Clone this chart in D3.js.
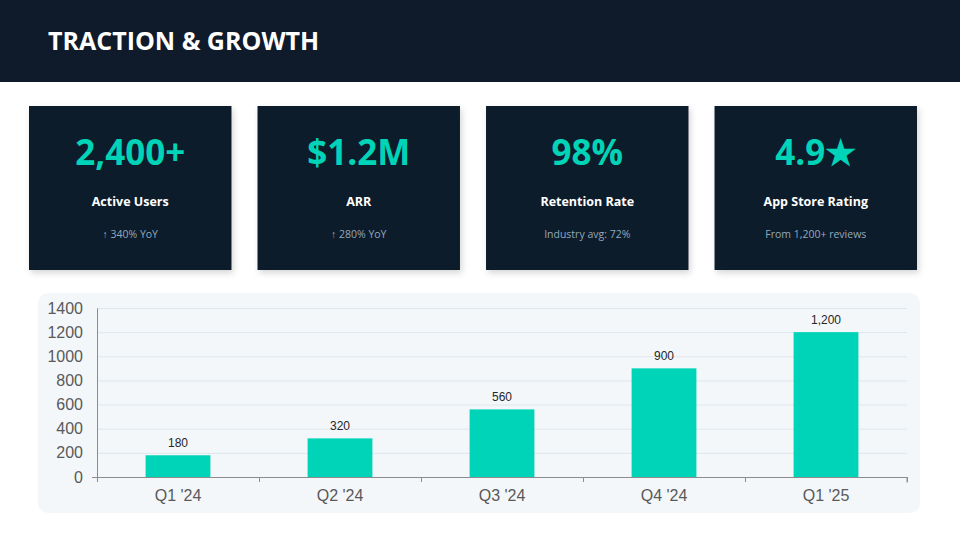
<!DOCTYPE html>
<html>
<head>
<meta charset="utf-8">
<script src="https://cdn.jsdelivr.net/npm/d3@7"></script>
<style>
  html, body { margin: 0; padding: 0; background: #fff; }
  svg { display: block; }
</style>
</head>
<body>
<div id="chart"></div>
<script>
// KPI cards
const kpiValues = ["2,400+", "$1.2M", "98%", "4.9\u2605"];
const kpiLabels = ["Active Users", "ARR", "Retention Rate", "App Store Rating"];
const kpiNotes = ["\u2191 340% YoY", "\u2191 280% YoY", "Industry avg: 72%", "From 1,200+ reviews"];

// bar chart
const quarters = ["Q1 '24", "Q2 '24", "Q3 '24", "Q4 '24", "Q1 '25"];
const users = [180, 320, 560, 900, 1200];
const yTicks = [0, 200, 400, 600, 800, 1000, 1200, 1400];

const width = 960;
const height = 540;
const navy = "#0f1a2b";
const teal = "#00d4b8";

const svg = d3.select("#chart")
  .append("svg")
  .attr("width", width)
  .attr("height", height)
  .attr("viewBox", `0 0 ${width} ${height}`);

const defs = svg.append("defs");
const shadow = defs.append("filter")
  .attr("id", "shadow")
  .attr("x", "-10%").attr("y", "-10%")
  .attr("width", "125%").attr("height", "130%");
shadow.append("feDropShadow")
  .attr("dx", 2).attr("dy", 3)
  .attr("stdDeviation", 3)
  .attr("flood-color", "#000")
  .attr("flood-opacity", 0.16);

// header band
svg.append("rect")
  .attr("x", 0).attr("y", 0)
  .attr("width", width).attr("height", 82)
  .attr("fill", navy);

svg.append("text")
  .attr("x", 48).attr("y", 50)
  .attr("fill", "#fff")
  .style("font-family", "'Open Sans', 'Noto Sans', sans-serif")
  .style("font-weight", 700)
  .style("font-size", "25px")
  .text("TRACTION & GROWTH");

// KPI cards
const cardX = d3.scaleBand()
  .domain(d3.range(kpiValues.length))
  .range([29, 917])
  .paddingInner(0.114)
  .paddingOuter(0);

const cards = svg.append("g").attr("class", "cards")
  .selectAll("g")
  .data(kpiValues)
  .join("g")
  .attr("transform", (d, i) => `translate(${cardX(i)}, 106)`);

cards.append("rect")
  .attr("width", cardX.bandwidth())
  .attr("height", 164)
  .attr("fill", navy)
  .attr("filter", "url(#shadow)");

cards.append("text")
  .attr("x", cardX.bandwidth() / 2)
  .attr("y", 59)
  .attr("text-anchor", "middle")
  .attr("fill", teal)
  .style("font-family", "'Open Sans', 'Noto Sans', sans-serif")
  .style("font-weight", 700)
  .style("font-size", "35px")
  .text((d) => d);

cards.append("text")
  .attr("x", cardX.bandwidth() / 2)
  .attr("y", 100)
  .attr("text-anchor", "middle")
  .attr("fill", "#fff")
  .style("font-family", "'Open Sans', 'Noto Sans', sans-serif")
  .style("font-weight", 700)
  .style("font-size", "12.5px")
  .text((d, i) => kpiLabels[i]);

cards.append("text")
  .attr("x", cardX.bandwidth() / 2)
  .attr("y", 132)
  .attr("text-anchor", "middle")
  .attr("fill", "#93a8bd")
  .style("font-family", "'Open Sans', 'Noto Sans', sans-serif")
  .style("font-size", "10.5px")
  .text((d, i) => kpiNotes[i]);

// chart panel
svg.append("rect")
  .attr("x", 38).attr("y", 293)
  .attr("width", 882).attr("height", 220)
  .attr("rx", 10)
  .attr("fill", "#f3f7fa");

const plot = { left: 97, right: 907, top: 308, bottom: 477 };

const x = d3.scaleBand()
  .domain(quarters)
  .range([plot.left, plot.right])
  .paddingInner(0.6)
  .paddingOuter(0.3);

const xEdge = d3.scaleLinear()
  .domain([0, quarters.length])
  .range([plot.left, plot.right]);

const y = d3.scaleLinear()
  .domain([0, 1400])
  .range([plot.bottom, plot.top]);

// gridlines
svg.append("g")
  .attr("class", "gridlines")
  .attr("transform", `translate(${plot.left}, 0)`)
  .call(d3.axisLeft(y).tickValues(yTicks).tickFormat("").tickSize(-(plot.right - plot.left)))
  .call((g) => g.select(".domain").remove())
  .call((g) => g.selectAll("line").attr("stroke", "#dfe6ed"));

// y axis
svg.append("g")
  .attr("transform", `translate(${plot.left}, 0)`)
  .call(d3.axisLeft(y).tickValues(yTicks).tickFormat(d3.format("d")).tickSize(0).tickPadding(14))
  .call((g) => g.select(".domain").attr("stroke", "#8c8c8c"))
  .call((g) => g.selectAll("text")
    .attr("fill", "#595959")
    .style("font-family", "'Liberation Sans', Arial, sans-serif")
    .style("font-size", "16px"));

// bars
svg.append("g")
  .selectAll("rect")
  .data(users)
  .join("rect")
  .attr("x", (d, i) => x(quarters[i]))
  .attr("y", (d) => y(d))
  .attr("width", x.bandwidth())
  .attr("height", (d) => y(0) - y(d))
  .attr("fill", teal);

// value labels
svg.append("g")
  .selectAll("text")
  .data(users)
  .join("text")
  .attr("x", (d, i) => x(quarters[i]) + x.bandwidth() / 2)
  .attr("y", (d) => y(d) - 8)
  .attr("text-anchor", "middle")
  .attr("fill", "#262626")
  .style("font-family", "'Liberation Sans', Arial, sans-serif")
  .style("font-size", "12px")
  .text((d) => d3.format(",")(d));

// x axis: boundary ticks
svg.append("g")
  .attr("transform", `translate(0, ${plot.bottom})`)
  .call(d3.axisBottom(xEdge).ticks(quarters.length).tickFormat("").tickSize(5).tickSizeOuter(5))
  .call((g) => g.select(".domain").attr("stroke", "#8c8c8c").attr("d", `M${plot.left - 5},0.5H${plot.right}V5.5`))
  .call((g) => g.selectAll("line").attr("stroke", "#8c8c8c"));

// x axis: category labels
svg.append("g")
  .attr("transform", `translate(0, ${plot.bottom})`)
  .call(d3.axisBottom(x).tickSize(0).tickPadding(13))
  .call((g) => g.select(".domain").remove())
  .call((g) => g.selectAll("text")
    .attr("fill", "#595959")
    .style("font-family", "'Liberation Sans', Arial, sans-serif")
    .style("font-size", "16px"));
</script>
</body>
</html>
